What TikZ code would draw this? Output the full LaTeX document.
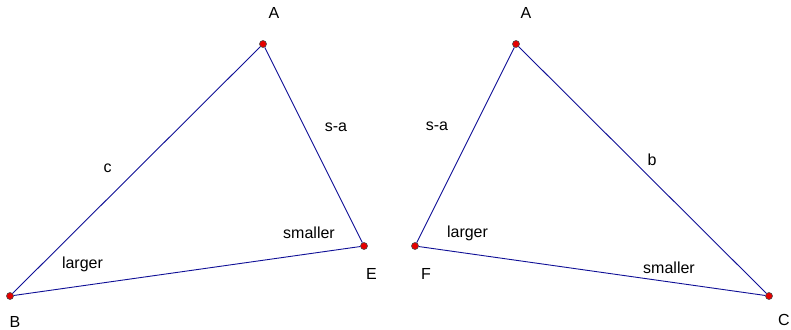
\documentclass[tikz,border=0pt]{standalone}
\usepackage{fontspec}
\setmainfont{Liberation Sans}
\usepackage{tikz}
\usetikzlibrary{positioning}
\definecolor{sideblue}{RGB}{15,15,150}
\definecolor{ptred}{RGB}{230,0,0}

\begin{document}
\begin{tikzpicture}[x=1pt, y=-1pt,
  pt/.style={circle, fill=ptred, draw=black!70, line width=0.6pt,
             inner sep=0pt, minimum size=7pt},
  side/.style={draw=sideblue, line width=0.9pt},
  lbl/.style={anchor=base, inner sep=0pt, font=\fontsize{16}{19}\selectfont}
]
\useasboundingbox (0,0) rectangle (791,329);

% Left triangle
\node[pt] (A1) at (263,44) {};
\node[pt] (B) at (10,296) {};
\node[pt] (E) at (364,246) {};

% Right triangle
\node[pt] (A2) at (516,44) {};
\node[pt] (F) at (415,246) {};
\node[pt] (C) at (769,296) {};

% Sides
\draw[side] (A1) -- (B) -- (E) -- (A1);
\draw[side] (A2) -- (F) -- (C) -- (A2);

% Vertex labels
\node[lbl] (lA1) at (274,19) {A};
\node[lbl] (lB) at (15,327) {B};
\node[lbl] (lE) at (371.5,279) {E};
\node[lbl] (lA2) at (526,19) {A};
\node[lbl] (lF) at (426,279) {F};
\node[lbl] (lC) at (784,325) {C};

% Side and angle labels
\node[lbl] (lc) at (107.5,172) {c};
\node[lbl] (lsa1) at (336,131) {s-a};
\node[lbl] (lsm1) at (309,238) {smaller};
\node[lbl] (llg1) at (82.5,268) {larger};
\node[lbl] (lsa2) at (437,130) {s-a};
\node[lbl] (lb) at (652,165) {b};
\node[lbl] (llg2) at (467.5,237) {larger};
\node[lbl] (lsm2) at (669,273) {smaller};
\end{tikzpicture}
\end{document}
